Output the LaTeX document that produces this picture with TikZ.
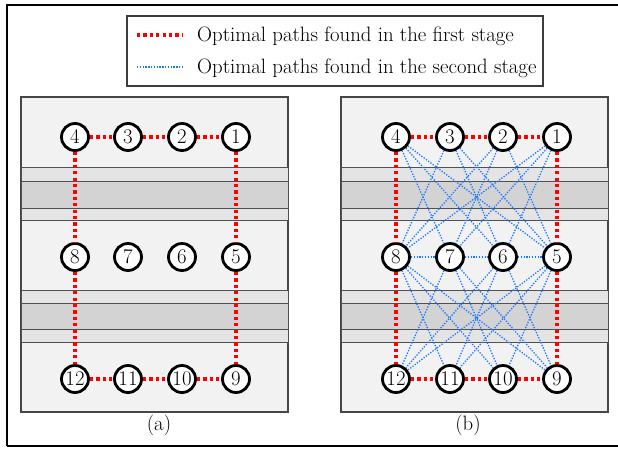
\documentclass[tikz,border=0pt]{standalone}
\begin{document}
\begin{tikzpicture}[x=1pt,y=-1pt,
  font=\fontsize{20.8}{25}\selectfont,
  station/.style={circle,draw=black,line width=2.8pt,fill=white,minimum size=27pt,inner sep=0pt},
  firstpath/.style={red,line width=3.2pt,dash pattern=on 3.2pt off 3.2pt},
  secondpath/.style={color={rgb,255:red,30;green,120;blue,255},line width=1.3pt,dash pattern=on 1.3pt off 1.5pt},
  panel/.style={draw={rgb,255:red,70;green,70;blue,70},line width=1.2pt,fill={rgb,255:red,242;green,242;blue,242}},
  outerband/.style={draw={rgb,255:red,80;green,80;blue,80},line width=0.9pt,fill={rgb,255:red,228;green,228;blue,228}},
  innerband/.style={draw={rgb,255:red,80;green,80;blue,80},line width=0.9pt,fill={rgb,255:red,211;green,211;blue,211}}
]
\useasboundingbox (0,0) rectangle (618,448);
% outer frame
\draw[line width=2pt] (7,446) -- (7,5) -- (630,5);
\draw[line width=2pt] (7,446) -- (630,446);

% legend
\node[draw={rgb,255:red,60;green,60;blue,60},line width=1.2pt,minimum width=416pt,minimum height=70pt] (legend) at (335,51) {};
\coordinate (ra) at (137,35);
\coordinate (rb) at (182,35);
\coordinate (ba) at (137,67);
\coordinate (bb) at (182,67);
\draw[firstpath] (ra) -- (rb);
\draw[secondpath] (ba) -- (bb);
\node[anchor=west,inner sep=0pt] (lt1) at (197,36) {Optimal paths found in the first stage};
\node[anchor=west,inner sep=0pt] (lt2) at (197,68) {Optimal paths found in the second stage};

% two panels
\foreach \px/\tag/\lx in {21/a/159, 341/b/468}{
  \draw[panel] (\px,97) rectangle ++(267,315);
  \draw[outerband] (\px,167) rectangle ++(267,53);
  \draw[innerband] (\px,181) rectangle ++(267,27);
  \draw[outerband] (\px,290) rectangle ++(267,52);
  \draw[innerband] (\px,303) rectangle ++(267,26);
  \node (lab\tag) at (\lx,425) {(\tag)};
}

% stations, panel (a)
\foreach \n/\x/\y in {4/75/137,3/128/137,2/182/137,1/236/137,
                      8/75/257,7/128/257,6/182/257,5/236/257,
                      12/75/379,11/128/379,10/182/379,9/236/379}{
  \node[station] (a\n) at (\x,\y) {\n};
}
% stations, panel (b)
\foreach \n/\x/\y in {4/396/137,3/450/137,2/503/137,1/557/137,
                      8/396/257,7/450/257,6/503/257,5/557/257,
                      12/396/379,11/450/379,10/503/379,9/557/379}{
  \node[station] (b\n) at (\x,\y) {\n};
}

% panel (a): first-stage paths
\foreach \u/\v in {4/3,3/2,2/1,4/8,8/12,1/5,5/9,12/11,11/10,10/9}{
  \draw[firstpath] (a\u) -- (a\v);
}

% panel (b): second-stage paths between neighbouring rows
\foreach \u in {4,3,2,1}{
  \foreach \v in {8,7,6,5}{
    \ifnum\numexpr\u+4\relax=\v\else
      \draw[secondpath] (b\u) -- (b\v);
    \fi
  }
}
\foreach \u in {8,7,6,5}{
  \foreach \v in {12,11,10,9}{
    \ifnum\numexpr\u+4\relax=\v\else
      \draw[secondpath] (b\u) -- (b\v);
    \fi
  }
}
\foreach \u/\v in {8/7,7/6,6/5}{
  \draw[secondpath] (b\u) -- (b\v);
}
% panel (b): first-stage paths
\foreach \u/\v in {4/3,3/2,2/1,4/8,8/12,1/5,5/9,12/11,11/10,10/9}{
  \draw[firstpath] (b\u) -- (b\v);
}
\end{tikzpicture}
\end{document}
